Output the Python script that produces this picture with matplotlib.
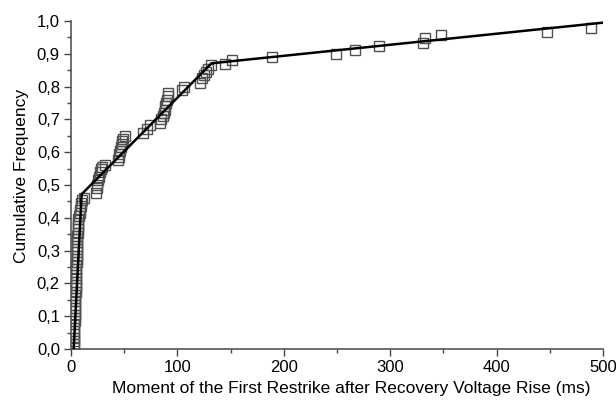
import matplotlib
matplotlib.use('Agg')
import matplotlib.pyplot as plt
import matplotlib.ticker as ticker
import numpy as np

plt.rcParams['font.family'] = ['Liberation Sans', 'DejaVu Sans']

# -------------------------- data --------------------------
# measured points (moment in ms, cumulative frequency)
x_meas = [2.5, 2.5, 2.5, 3, 3, 3, 3, 3, 3.5, 3.5, 3.5, 3.5, 4, 4, 4, 4, 4, 4.5, 4.5,
          4.5, 4.5, 5, 5, 5, 5, 5, 5.5, 5.5, 5.5, 5.5, 6, 6, 6, 6, 6, 6.5, 6.5, 6.5,
          7, 7, 7.5, 8, 8.5, 9, 9.5, 10.5, 12,
          23.5, 24, 24.5, 25, 26, 27, 28, 29, 32,
          44.5, 45, 45.5, 46, 47, 47.5, 48, 49, 50.5,
          68, 71, 74,
          84, 85, 86, 87, 88, 88.5, 89, 90, 91, 91.5,
          104, 106,
          121, 123, 125, 127, 129, 132,
          145, 151,
          189, 249, 267, 289, 330.5, 332.5, 347.5, 447, 489]
y_meas = [0.005, 0.015, 0.025, 0.035, 0.045, 0.055, 0.065, 0.075, 0.085, 0.095, 0.105,
          0.115, 0.125, 0.135, 0.145, 0.155, 0.165, 0.175, 0.185, 0.195, 0.205, 0.215,
          0.225, 0.235, 0.245, 0.255, 0.265, 0.275, 0.285, 0.295, 0.305, 0.315, 0.325,
          0.335, 0.345, 0.355, 0.365, 0.375, 0.385, 0.395, 0.405, 0.415, 0.425, 0.435,
          0.445, 0.455, 0.46,
          0.475, 0.49, 0.50, 0.515, 0.525, 0.54, 0.55, 0.555, 0.56,
          0.575, 0.585, 0.595, 0.605, 0.615, 0.625, 0.635, 0.64, 0.65,
          0.66, 0.672, 0.683,
          0.69, 0.70, 0.71, 0.72, 0.73, 0.74, 0.75, 0.76, 0.77, 0.78,
          0.79, 0.80,
          0.81, 0.825, 0.835, 0.845, 0.855, 0.865,
          0.87, 0.88,
          0.89, 0.90, 0.912, 0.924, 0.934, 0.947, 0.957, 0.967, 0.978]

# fitted piecewise curve
x_fit = [2.5, 9.0, 9.6, 10.0, 132, 500]
y_fit = [0.0, 0.41, 0.45, 0.472, 0.871, 0.995]

# -------------------------- drawing --------------------------
fig = plt.figure(figsize=(6.16, 4.01), dpi=100)
ax = fig.add_axes([0.1153, 0.1297, 0.8637, 0.8179])

ax.plot(x_meas, y_meas, linestyle='none', marker='s', markersize=7.5,
        markerfacecolor='none', markeredgecolor='#505050', markeredgewidth=1.0, zorder=3)
ax.plot(x_fit, y_fit, color='black', linewidth=1.8, zorder=4)

ax.set_xlim(0, 500)
ax.set_ylim(0, 1.0)
ax.xaxis.set_major_locator(ticker.MultipleLocator(100))
ax.xaxis.set_minor_locator(ticker.MultipleLocator(50))
ax.yaxis.set_major_locator(ticker.MultipleLocator(0.1))
ax.yaxis.set_minor_locator(ticker.MultipleLocator(0.05))
ax.yaxis.set_major_formatter(ticker.FuncFormatter(lambda v, p: f'{v:.1f}'.replace('.', ',')))

ax.tick_params(which='major', direction='out', length=5, width=1, color='#444444',
               labelsize=12, labelcolor='black', pad=3)
ax.tick_params(which='minor', direction='out', length=3, width=1, color='#444444')

for s in ['top', 'right']:
    ax.spines[s].set_visible(False)
for s in ['left', 'bottom']:
    ax.spines[s].set_linewidth(1.2)
    ax.spines[s].set_color('#555555')

ax.set_xlabel('Moment of the First Restrike after Recovery Voltage Rise (ms)', fontsize=12.5)
ax.set_ylabel('Cumulative Frequency', fontsize=12.5)
ax.xaxis.set_label_coords(0.526, -0.097)
ax.yaxis.set_label_coords(-0.079, 0.527)

plt.savefig('out.png', dpi=100)
